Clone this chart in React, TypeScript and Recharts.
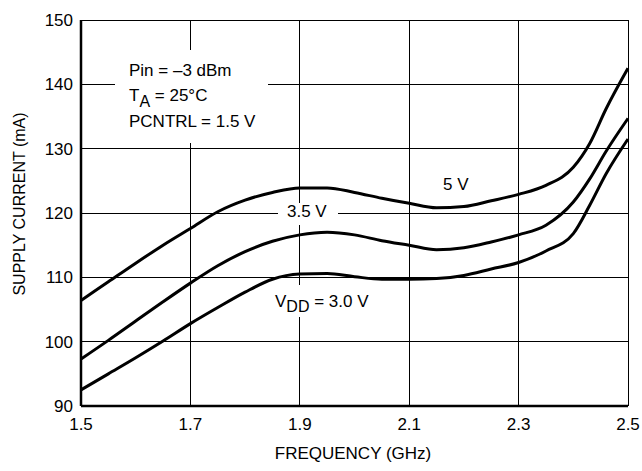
import React from 'react';
import { LineChart, CartesianGrid, XAxis, YAxis, Line } from 'recharts';

// frequency (GHz) and supply current (mA)
const freq = [1.5, 1.55, 1.6, 1.65, 1.7, 1.75, 1.8, 1.85, 1.9, 1.95, 2.0, 2.05, 2.1, 2.15, 2.2, 2.25, 2.3, 2.35, 2.4, 2.43, 2.46, 2.5];
const vdd5 = [106.4, 109.3, 112.2, 115.0, 117.6, 120.2, 122.0, 123.2, 123.9, 123.9, 123.2, 122.3, 121.5, 120.8, 121.0, 121.9, 122.9, 124.3, 127.1, 130.8, 136.2, 142.5];
const vdd35 = [97.3, 100.2, 103.2, 106.2, 109.1, 111.8, 114.0, 115.6, 116.6, 117.0, 116.6, 115.7, 115.0, 114.3, 114.6, 115.5, 116.6, 118.1, 121.7, 125.3, 129.6, 134.7];
const vdd30 = [92.5, 95.0, 97.5, 100.1, 102.8, 105.3, 107.7, 109.7, 110.5, 110.6, 110.1, 109.7, 109.7, 109.8, 110.3, 111.3, 112.3, 114.1, 116.8, 121.2, 126.1, 131.5];

const xTicks = [1.5, 1.7, 1.9, 2.1, 2.3, 2.5];
const yTicks = [90, 100, 110, 120, 130, 140, 150];

const data = freq.map((f, i) => ({ f, v5: vdd5[i], v35: vdd35[i], v30: vdd30[i] }));

const font = '"Liberation Sans", Arial, sans-serif';
const tickStyle = { fontSize: 17, fill: '#000', fontFamily: font };

const txt: React.CSSProperties = {
  position: 'absolute',
  fontFamily: font,
  fontSize: 17,
  lineHeight: '17px',
  color: '#000',
  whiteSpace: 'nowrap',
};

const App: React.FC = () => {
  return (
    <div style={{ position: 'absolute', left: 0, top: 0, width: 642, height: 471, background: '#fff' }}>
      <LineChart width={642} height={471} data={data} margin={{ top: 20, right: 14, left: 0, bottom: 7 }}>
        <CartesianGrid stroke="#000" strokeWidth={1} shapeRendering="crispEdges" />
        <XAxis
          dataKey="f"
          type="number"
          domain={[1.5, 2.5]}
          ticks={xTicks}
          tickFormatter={(v: number) => v.toFixed(1)}
          height={58}
          tickLine={false}
          tickMargin={6}
          tick={tickStyle}
          axisLine={{ stroke: '#000', strokeWidth: 2.5 }}
        />
        <YAxis
          type="number"
          domain={[90, 150]}
          ticks={yTicks}
          width={81}
          tickLine={false}
          tick={tickStyle}
          axisLine={{ stroke: '#000', strokeWidth: 2.5 }}
        />
        <Line type="monotone" dataKey="v5" stroke="#000" strokeWidth={3} dot={false} isAnimationActive={false} />
        <Line type="monotone" dataKey="v35" stroke="#000" strokeWidth={3} dot={false} isAnimationActive={false} />
        <Line type="monotone" dataKey="v30" stroke="#000" strokeWidth={3} dot={false} isAnimationActive={false} />
      </LineChart>

      {/* conditions box */}
      <div style={{ position: 'absolute', left: 115, top: 50, width: 153, height: 93, background: '#fff' }} />
      <div style={{ ...txt, left: 129, top: 62 }}>Pin = –3 dBm</div>
      <div style={{ ...txt, left: 129, top: 87 }}>
        T<span style={{ position: 'relative', top: 6, fontSize: 16 }}>A</span> = 25°C
      </div>
      <div style={{ ...txt, left: 129, top: 113 }}>PCNTRL = 1.5 V</div>

      {/* curve labels */}
      <div style={{ position: 'absolute', left: 278, top: 203, width: 60, height: 22, background: '#fff' }} />
      <div style={{ ...txt, left: 287, top: 203 }}>3.5 V</div>
      <div style={{ ...txt, left: 443, top: 176 }}>5 V</div>
      <div style={{ position: 'absolute', left: 272, top: 285, width: 104, height: 32, background: '#fff' }} />
      <div style={{ ...txt, left: 275, top: 293 }}>
        V<span style={{ position: 'relative', top: 5, fontSize: 16 }}>DD</span> = 3.0 V
      </div>

      {/* axis titles */}
      <div style={{ ...txt, left: 353, top: 445, transform: 'translateX(-50%)' }}>FREQUENCY (GHz)</div>
      <div
        style={{
          ...txt,
          fontSize: 16,
          lineHeight: '16px',
          left: 19.5,
          top: 204,
          transform: 'translate(-50%, -50%) rotate(-90deg)',
        }}
      >
        SUPPLY CURRENT (mA)
      </div>
    </div>
  );
};

export default App;
